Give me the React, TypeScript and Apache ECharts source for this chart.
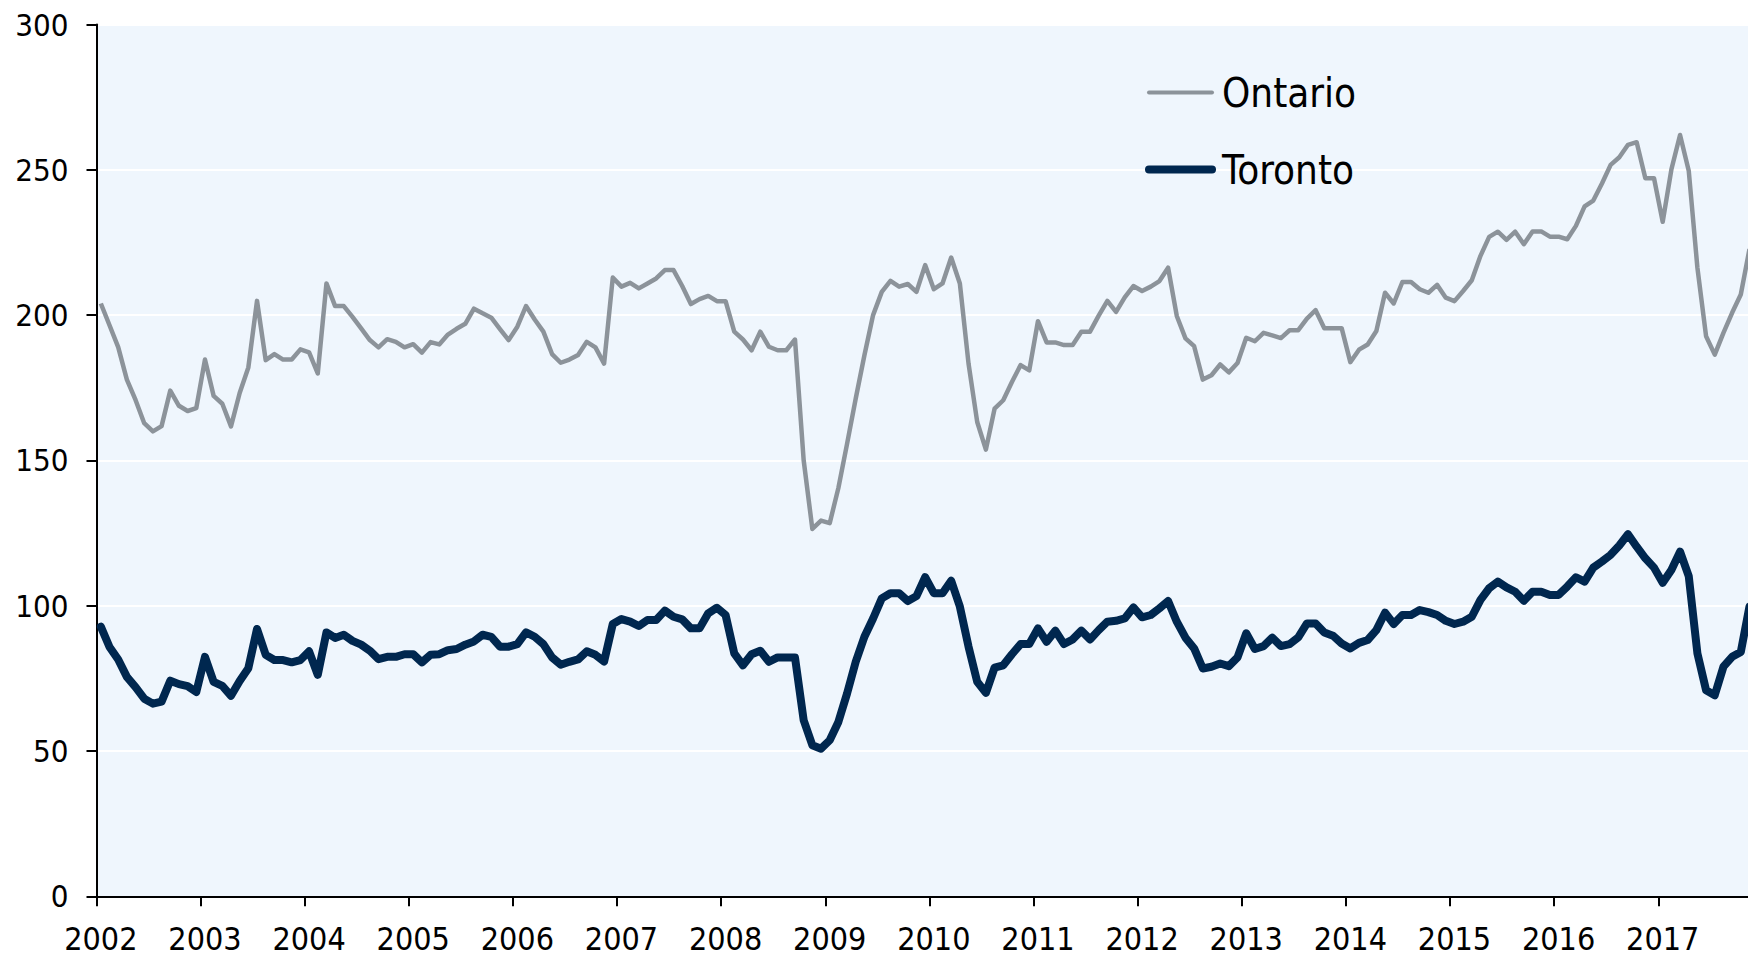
import React, { useEffect, useRef } from "react";
import * as echarts from "echarts";

// ---- data ----
const years = [2002, 2003, 2004, 2005, 2006, 2007, 2008, 2009, 2010, 2011, 2012, 2013, 2014, 2015, 2016, 2017];
const monthsInLastYear = 11;

const yMin = 0;
const yMax = 300;
const yStep = 50;

const seriesNames = ["Ontario", "Toronto"];

const ontario = [
  204, 196.5, 189, 177.8, 170.8, 162.8, 160, 161.8, 174, 168.8, 167, 168,
  184.7, 172.2, 169.5, 161.7, 173.2, 182, 204.9, 184.5, 186.6, 184.7, 184.7, 188.2,
  187.2, 179.9, 210.9, 203.1, 203.1, 199.4, 195.4, 191.4, 188.9, 191.7, 190.8, 188.9,
  190, 187.1, 190.7, 189.9, 193.3, 195.3, 197, 202.2, 200.6, 199.1, 195.2, 191.4,
  196, 203.1, 198.5, 194.3, 186.6, 183.6, 184.7, 186.3, 190.8, 188.9, 183.3, 212.9,
  209.8, 211.1, 209.2, 210.9, 212.6, 215.5, 215.5, 210, 203.8, 205.5, 206.6, 204.8,
  204.8, 194.3, 191.6, 187.9, 194.3, 189.1, 187.9, 187.9, 191.6, 150, 126.4, 129.3,
  128.4, 140.5, 155.7, 171.3, 186.2, 200, 208, 211.8, 209.8, 210.7, 208, 217.2,
  208.9, 210.9, 219.8, 210.9, 183.3, 163.2, 153.7, 167.8, 170.7, 177, 182.8, 181,
  197.9, 190.6, 190.6, 189.7, 189.7, 194.3, 194.3, 199.8, 204.9, 201.1, 206.1, 210,
  208.3, 209.8, 211.7, 216.3, 199.7, 192, 189.3, 177.8, 179.3, 183, 180.3, 183.5,
  192.2, 191, 193.9, 193, 192.1, 194.8, 194.8, 198.8, 201.7, 195.5, 195.5, 195.5,
  183.8, 188.1, 189.9, 194.5, 207.7, 204, 211.4, 211.4, 208.9, 207.7, 210.4, 206,
  204.8, 208.3, 212, 220.4, 226.9, 228.7, 225.9, 228.7, 224.4, 228.8, 228.8, 227,
  227, 226.1, 230.7, 237.4, 239.4, 245.3, 251.7, 254.3, 258.6, 259.5, 247.1, 247.1,
  232.1, 250.1, 262, 249.7, 216.3, 192.7, 186.4, 193.9, 200.8, 207.1, 222.7,
];

const toronto = [
  92.8, 85.8, 81.5, 75.5, 72, 68, 66.3, 67, 74.2, 73, 72.3, 70.3,
  82.4, 73.8, 72.4, 69, 74.1, 78.5, 92, 83.1, 81.3, 81.3, 80.5, 81.3,
  84.3, 76.2, 90.8, 88.9, 90, 87.9, 86.6, 84.5, 81.6, 82.4, 82.4, 83.3,
  83.3, 80.5, 83.1, 83.3, 84.7, 85.1, 86.6, 87.7, 90, 89.3, 85.9, 85.9,
  86.8, 90.8, 89.3, 86.8, 82.2, 79.7, 80.7, 81.5, 84.3, 83.1, 80.8, 93.7,
  95.4, 94.5, 93, 95.1, 95.1, 98.3, 96.2, 95.3, 92.2, 92.2, 97.4, 99.3,
  96.8, 83.6, 79.5, 83.3, 84.5, 80.7, 82.2, 82.2, 82.2, 60.6, 52, 50.8,
  53.7, 60, 69.8, 80.7, 89.3, 95.6, 102.5, 104.3, 104.3, 101.6, 103.3, 109.8,
  104.3, 104.3, 108.6, 99.7, 85.9, 73.8, 70, 78.7, 79.5, 83.3, 86.8, 86.8,
  92.2, 87.6, 91.4, 86.8, 88.4, 91.4, 88.4, 91.6, 94.5, 94.8, 95.6, 99.4,
  96, 96.8, 99.1, 101.6, 94.5, 89, 85.3, 78.4, 79, 80.1, 79.2, 82.2,
  90.5, 85.1, 86.1, 89, 86.1, 86.8, 89.1, 93.9, 93.9, 90.8, 89.7, 87,
  85.3, 87.2, 88.2, 91.6, 97.6, 93.7, 96.8, 96.8, 98.5, 97.8, 96.8, 94.8,
  93.7, 94.5, 96.2, 102, 106, 108.3, 106.3, 104.8, 101.7, 104.8, 104.8, 103.7,
  103.7, 106.6, 109.8, 108.3, 113.1, 115.2, 117.5, 120.7, 124.6, 120.3, 116.3, 113.1,
  107.9, 112.3, 118.6, 110.2, 83.6, 70.9, 69.2, 79, 82.4, 84.1, 99.7,
];

// ---- styles ----
const FONT = '"DejaVu Sans Condensed", "Liberation Sans Narrow", "DejaVu Sans", sans-serif';
const ONT_COLOR = "#8C939A";
const TOR_COLOR = "#00274F";
const BG = "#EFF6FD";

const PAGE_W = 1748;
const PAGE_H = 957;
const CHART_W = 1762;

function buildCategories(): string[] {
  const cats: string[] = [];
  years.forEach((y, i) => {
    const n = i === years.length - 1 ? monthsInLastYear : 12;
    for (let m = 1; m <= n; m++) cats.push(`${y}-${m < 10 ? "0" + m : m}`);
  });
  return cats;
}

export default function App() {
  const ref = useRef<HTMLDivElement>(null);

  useEffect(() => {
    if (!ref.current) return;
    const chart = echarts.init(ref.current, undefined, { renderer: "svg" });
    const categories = buildCategories();
    const monthPx = 8.677;
    const left = 96.5;
    const plotW = categories.length * monthPx;
    const option: any = {
      animation: false,
      backgroundColor: "#ffffff",
      textStyle: { fontFamily: FONT },
      grid: {
        left: left,
        top: 24.5,
        right: CHART_W - left - plotW,
        bottom: PAGE_H - 24.5 - 871.8,
        show: true,
        backgroundColor: BG,
        borderWidth: 0,
        containLabel: false,
      },
      xAxis: {
        type: "category",
        data: categories,
        boundaryGap: true,
        axisLine: { show: true, lineStyle: { color: "#000", width: 2 } },
        axisTick: { show: true, interval: 11, alignWithLabel: false, length: 10, lineStyle: { color: "#000", width: 2 } },
        axisLabel: {
          interval: 11,
          margin: 26.5,
          color: "#000",
          fontSize: 32,
          fontFamily: FONT,
          hideOverlap: false,
          formatter: (v: string) => v.slice(0, 4),
        },
        splitLine: { show: false },
      },
      yAxis: {
        type: "value",
        min: yMin,
        max: yMax,
        interval: yStep,
        axisLine: { show: true, lineStyle: { color: "#000", width: 2 } },
        axisTick: { show: true, length: 10, lineStyle: { color: "#000", width: 2 } },
        axisLabel: { margin: 28, color: "#000", fontSize: 31, fontFamily: FONT },
        splitLine: { show: true, lineStyle: { color: "#ffffff", width: 2 } },
      },
      series: [
        {
          name: seriesNames[0],
          type: "line",
          data: ontario,
          symbol: "none",
          lineStyle: { color: ONT_COLOR, width: 4.5, join: "round" },
          itemStyle: { color: ONT_COLOR },
        },
        {
          name: seriesNames[1],
          type: "line",
          data: toronto,
          symbol: "none",
          lineStyle: { color: TOR_COLOR, width: 8, join: "round", cap: "round" },
          itemStyle: { color: TOR_COLOR },
        },
      ],
      graphic: [
        {
          id: "legOntLine",
          type: "rect",
          z: 100,
          shape: { x: 1147, y: 90.5, width: 67, height: 4, r: 2 },
          style: { fill: ONT_COLOR },
        },
        {
          id: "legOntText",
          type: "text",
          z: 100,
          x: 1222,
          y: 93,
          style: { text: seriesNames[0], fontSize: 40, fontFamily: FONT, fill: "#000", verticalAlign: "middle", textAlign: "left" },
        },
        {
          id: "legTorLine",
          type: "rect",
          z: 100,
          shape: { x: 1145, y: 165.5, width: 71, height: 8, r: 4 },
          style: { fill: TOR_COLOR },
        },
        {
          id: "legTorText",
          type: "text",
          z: 100,
          x: 1222,
          y: 170,
          style: { text: seriesNames[1], fontSize: 40, fontFamily: FONT, fill: "#000", verticalAlign: "middle", textAlign: "left" },
        },
      ],
    };
    chart.setOption(option);
    return () => chart.dispose();
  }, []);

  return (
    <div style={{ position: "absolute", left: 0, top: 0, width: PAGE_W, height: PAGE_H, overflow: "hidden" }}>
      <div ref={ref} style={{ width: CHART_W, height: PAGE_H }} />
    </div>
  );
}
